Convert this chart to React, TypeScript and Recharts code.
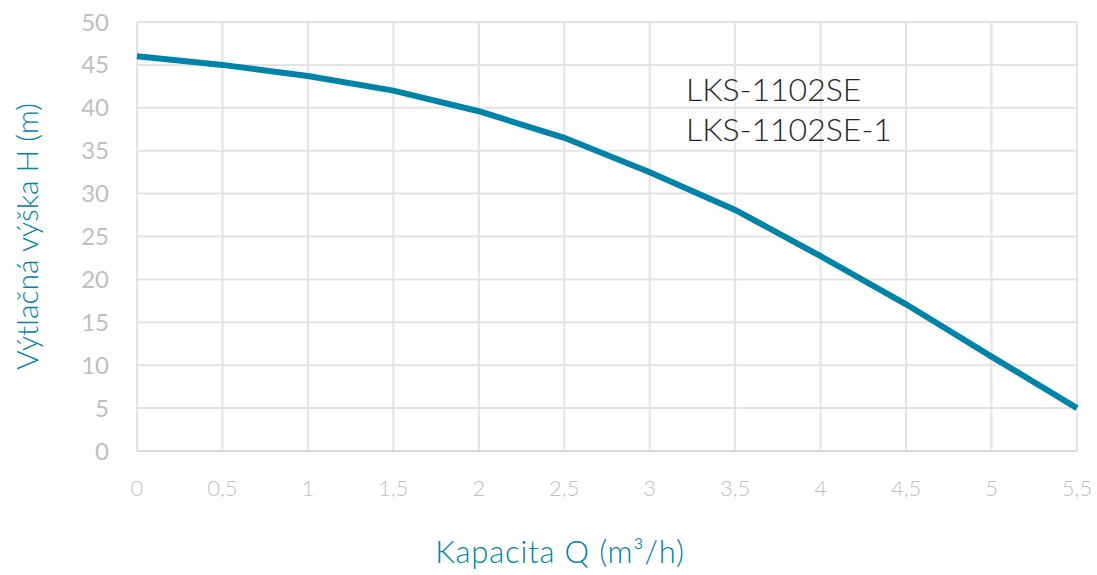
import React from 'react';
import { LineChart, Line, XAxis, YAxis, CartesianGrid, Label } from 'recharts';

const flowQ = [0, 0.5, 1, 1.5, 2, 2.5, 3, 3.5, 4, 4.5, 5, 5.5];
const headH = [46.0, 45.0, 43.7, 42.0, 39.6, 36.5, 32.5, 28.1, 22.7, 17.1, 11.0, 5.0];
const xTicks = [0, 0.5, 1, 1.5, 2, 2.5, 3, 3.5, 4, 4.5, 5, 5.5];
const yTicks = [0, 5, 10, 15, 20, 25, 30, 35, 40, 45, 50];
const modelNames = ['LKS-1102SE', 'LKS-1102SE-1'];
const xTitle = 'Kapacita Q (m³/h)';
const yTitle = 'Výtlačná výška H (m)';

const data = flowQ.map((q, i) => ({ q, h: headH[i] }));

const TEAL = '#0083a8';
const GRAY = '#bfbfbf';

export default function App() {
  return (
    <div style={{ position: 'absolute', left: 0, top: 0, width: 1097, height: 575, background: '#fff' }}>
      <LineChart width={1097} height={575} data={data} margin={{ top: 22, right: 20, bottom: 0, left: 0 }}>
        <CartesianGrid stroke="#e3e3e3" strokeWidth={2} vertical horizontal />
        <XAxis
          dataKey="q"
          type="number"
          domain={[0, 5.5]}
          ticks={xTicks}
          interval={0}
          tickFormatter={(v: number) => String(v).replace('.', ',')}
          tick={{ fill: GRAY, fontSize: 22, fontFamily: 'Lato', fontWeight: 300 }}
          tickLine={false}
          tickSize={0}
          tickMargin={29}
          axisLine={{ stroke: '#d9d9d9', strokeWidth: 2 }}
          height={124}
        />
        <YAxis
          type="number"
          domain={[0, 50]}
          ticks={yTicks}
          interval={0}
          tick={{ fill: GRAY, fontSize: 24, fontFamily: 'Lato' }}
          tickLine={false}
          tickSize={0}
          tickMargin={28}
          axisLine={false}
          width={137}
        >
          <Label value={yTitle} angle={-90} position="insideLeft" offset={27} fill={TEAL} fontSize={30} fontFamily="Lato" fontWeight={300} style={{ textAnchor: 'middle' }} />
        </YAxis>
        <Line
          type="linear"
          dataKey="h"
          stroke={TEAL}
          strokeWidth={6}
          dot={false}
          activeDot={false}
          isAnimationActive={false}
        />
        <text x={686} y={101} fill="#262626" fontSize={32} fontFamily="Lato" fontWeight={300}>{modelNames[0]}</text>
        <text x={686} y={141} fill="#262626" fontSize={32} fontFamily="Lato" fontWeight={300}>{modelNames[1]}</text>
        <text x={560} y={563} textAnchor="middle" fill={TEAL} fontSize={31} fontFamily="Lato" fontWeight={300} letterSpacing={0.8}>{xTitle}</text>
      </LineChart>
    </div>
  );
}
